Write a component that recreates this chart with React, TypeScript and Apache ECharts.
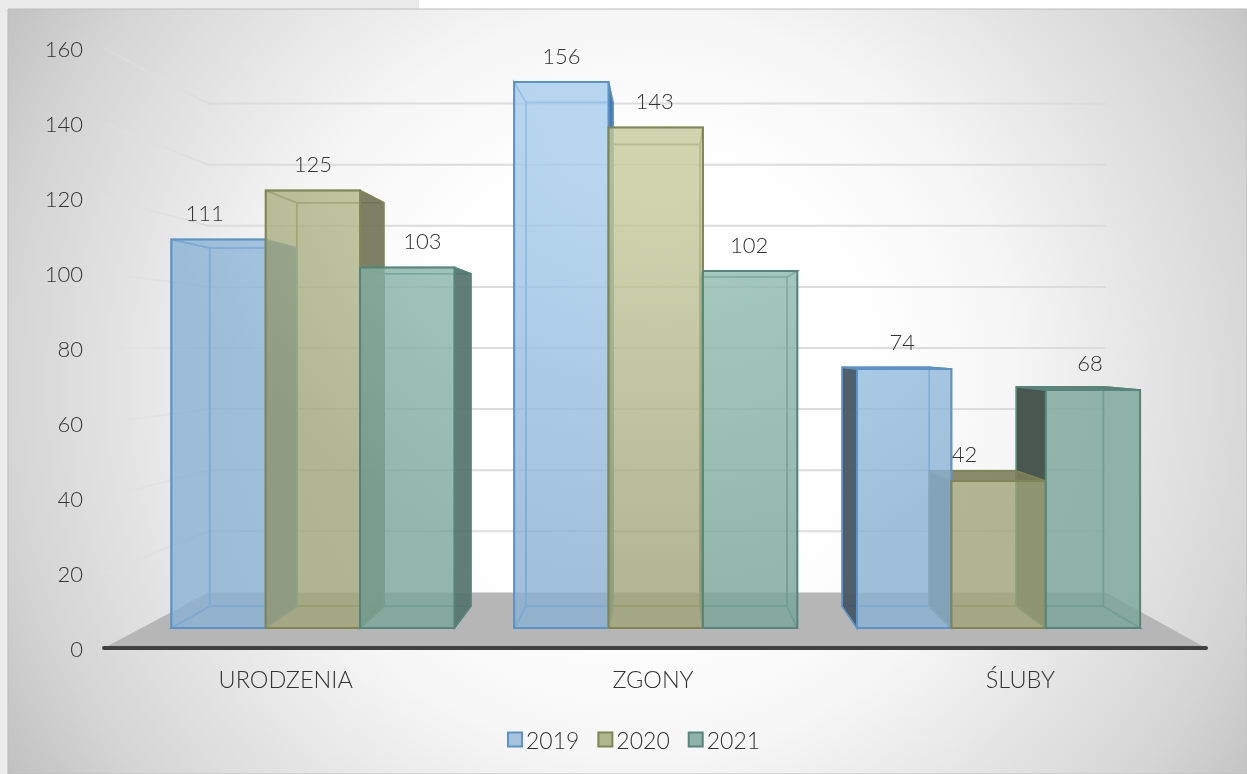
import React, { useEffect, useRef } from "react";
import * as echarts from "echarts";

const categories = ["URODZENIA", "ZGONY", "ŚLUBY"];
const years = ["2019", "2020", "2021"];
const values2019 = [111, 156, 74];
const values2020 = [125, 143, 42];
const values2021 = [103, 102, 68];
const yTicks = [0, 20, 40, 60, 80, 100, 120, 140, 160];

const FONT = "Lato, 'Open Sans', sans-serif";
const WEIGHT = 300;
const TEXT = "#333333";
const VX = 666, VY = 348;
const S_FRONT = 0.9333, S_BACK = 0.861, S_WALL = 0.8147;
const SLOT = 0.2753;

const palette = [
  { bright: "rgba(166,204,236,0.8)", dark: "rgba(136,176,211,0.8)", line: "#5b93c7", sideL: "rgba(72,88,102,0.96)", sideR: "rgba(70,115,165,0.95)", top: "rgba(80,130,180,0.95)", swatch: "#a6c3df" },
  { bright: "rgba(196,202,156,0.8)", dark: "rgba(159,164,119,0.8)", line: "#7f8653", sideL: "rgba(100,100,70,0.95)", sideR: "rgba(112,114,84,0.9)", top: "rgba(125,126,92,0.9)", swatch: "#b0b78f" },
  { bright: "rgba(149,192,180,0.8)", dark: "rgba(120,165,152,0.8)", line: "#56857a", sideL: "rgba(70,84,78,0.98)", sideR: "rgba(84,116,108,0.93)", top: "rgba(90,125,112,0.95)", swatch: "#8fb3a9" },
];

const labelNudge: Record<string, number> = {
  "0-0": -14, "0-1": 0, "0-2": 15,
  "1-0": 0, "1-1": -1, "1-2": -1,
  "2-0": -2, "2-1": -34, "2-2": -3,
};

const project = (p: number[], s: number) => [VX + s * (p[0] - VX), VY + s * (p[1] - VY)];

function barGeometry(api: any, seriesIdx: number) {
  const cat = api.value(0), val = api.value(1);
  const band = api.size([1, 0])[0];
  const c0 = api.coord([cat, 0]);
  const cv = api.coord([cat, val]);
  const w = band * SLOT;
  const xL = c0[0] + (seriesIdx - 1.5) * w;
  const xR = xL + w;
  const fBL = project([xL, c0[1]], S_FRONT), fBR = project([xR, c0[1]], S_FRONT);
  const fTL = project([xL, cv[1]], S_FRONT), fTR = project([xR, cv[1]], S_FRONT);
  const bBL = project([xL, c0[1]], S_BACK), bBR = project([xR, c0[1]], S_BACK);
  const bTL = project([xL, cv[1]], S_BACK), bTR = project([xR, cv[1]], S_BACK);
  return { cat, val, fBL, fBR, fTL, fTR, bBL, bBR, bTL, bTR };
}

const poly = (points: number[][], fill: any, stroke: string, lw: number, z2: number) => ({
  type: "polygon", z2, silent: true,
  shape: { points },
  style: { fill, stroke, lineWidth: lw, lineJoin: "miter" },
});

function bodyRender(seriesIdx: number) {
  return (_p: any, api: any) => {
    const g = barGeometry(api, seriesIdx);
    const c = palette[seriesIdx];
    const soft = "rgba(255,255,255,0)";
    const leftExterior = g.bTL[0] < g.fTL[0];
    const rightExterior = g.bTR[0] > g.fTR[0];
    const topExterior = g.bTL[1] < g.fTL[1];
    const children: any[] = [
      poly([g.bBL, g.bBR, g.bTR, g.bTL], "rgba(255,255,255,0.03)", c.line, 1.5, 0),
      poly([g.fBL, g.fBR, g.bBR, g.bBL], "rgba(255,255,255,0.02)", c.line, 1.5, 0),
      poly([g.fBL, g.bBL, g.bTL, g.fTL], leftExterior ? c.sideL : soft, c.line, 1.5, leftExterior ? 2 : 0),
      poly([g.fBR, g.bBR, g.bTR, g.fTR], rightExterior ? c.sideR : soft, c.line, 1.5, rightExterior ? 2 : 0),
      poly([g.fTL, g.fTR, g.bTR, g.bTL], topExterior ? c.top : soft, c.line, 1.5, topExterior ? 3 : 0),
    ];
    return { type: "group", children };
  };
}

function frontRender(seriesIdx: number) {
  return (_p: any, api: any) => {
    const g = barGeometry(api, seriesIdx);
    const c = palette[seriesIdx];
    const nudge = labelNudge[`${g.cat}-${seriesIdx}`] || 0;
    const mid = (g.fTL[0] + g.fTR[0]) / 2 + nudge;
    const fill = new (echarts.graphic as any).RadialGradient(660, 60, 520, [
      { offset: 0, color: c.bright },
      { offset: 0.25, color: c.bright },
      { offset: 1, color: c.dark },
    ], true);
    return {
      type: "group",
      children: [
        poly([g.fBL, g.fBR, g.fTR, g.fTL], fill, c.line, 2, 1),
        {
          type: "text", z2: 5, silent: true,
          x: mid, y: g.fTL[1] - 27,
          style: { text: String(g.val), fill: TEXT, font: `${WEIGHT} 22px ${FONT}`, align: "center", verticalAlign: "middle" },
        },
      ],
    };
  };
}

function wallRender(params: any, api: any) {
  const v = api.value(1);
  const cs = params.coordSys;
  const y = api.coord([0, v])[1];
  const xA = cs.x, xB = cs.x + cs.width;
  const a = [xA, y], b = [xB, y];
  const wa = project(a, S_WALL), wb = project(b, S_WALL);
  if (v === 0) {
    return {
      type: "polygon", silent: true, z2: 0,
      shape: { points: [a, wa, wb, b] },
      style: { fill: "#b6b6b6" },
    };
  }
  const stroke = new (echarts.graphic as any).LinearGradient(xA, 0, wa[0], 0, [
    { offset: 0, color: "rgba(226,226,226,0.25)" },
    { offset: 1, color: "rgba(220,220,220,1)" },
  ], true);
  return {
    type: "polyline", silent: true, z2: 1,
    shape: { points: [a, wa, wb] },
    style: { fill: "none", stroke, lineWidth: 2 },
  };
}

export default function App() {
  const ref = useRef<HTMLDivElement>(null);
  useEffect(() => {
    if (!ref.current) return;
    const chart = echarts.init(ref.current, undefined, { renderer: "svg" });
    const seriesValues = [values2019, values2020, values2021];
    const toData = (vals: number[]) => vals.map((v, i) => [i, v]);
    const series: any[] = [
      {
        type: "custom", name: "walls", coordinateSystem: "cartesian2d", z: 1, clip: false, silent: true,
        encode: { x: 0, y: 1 },
        data: yTicks.map((t) => [0, t]),
        renderItem: wallRender,
      },
    ];
    seriesValues.forEach((vals, i) => {
      series.push({
        type: "custom", name: years[i], coordinateSystem: "cartesian2d", z: 3, clip: false, silent: true,
        encode: { x: 0, y: 1 },
        itemStyle: { color: palette[i].swatch },
        data: toData(vals),
        renderItem: bodyRender(i),
      });
    });
    seriesValues.forEach((vals, i) => {
      series.push({
        type: "custom", name: years[i], coordinateSystem: "cartesian2d", z: 4, clip: false, silent: true,
        encode: { x: 0, y: 1 },
        itemStyle: { color: palette[i].swatch },
        data: toData(vals),
        renderItem: frontRender(i),
      });
    });
    chart.setOption({
      animation: false,
      backgroundColor: "transparent",
      graphic: [
        { type: "rect", z: -10, silent: true, shape: { x: 0, y: 0, width: 1247, height: 774 }, style: { fill: "#ffffff" } },
        { type: "rect", z: -10, silent: true, shape: { x: 0, y: 0, width: 419, height: 774 }, style: { fill: "#ecebeb" } },
        {
          type: "rect", z: -9, silent: true,
          shape: { x: 8, y: 9, width: 1239, height: 765 },
          style: {
            stroke: "#bdbdbd", lineWidth: 1,
            fill: new (echarts.graphic as any).RadialGradient(640, 385, 745, [
              { offset: 0, color: "#ffffff" },
              { offset: 0.3, color: "#ffffff" },
              { offset: 0.5, color: "#f6f6f6" },
              { offset: 0.7, color: "#e3e3e3" },
              { offset: 0.85, color: "#d5d5d5" },
              { offset: 1, color: "#c0c0c0" },
            ], true),
          },
        },
      ],
      grid: { left: 104, right: 41, top: 48, bottom: 126, containLabel: false },
      xAxis: {
        type: "category",
        data: categories,
        z: 10,
        axisTick: { show: false },
        axisLine: { show: true, lineStyle: { color: "#404040", width: 4, cap: "round" } },
        axisLabel: { color: TEXT, fontFamily: FONT, fontWeight: WEIGHT, fontSize: 23.5, margin: 19, padding: [0, 4, 0, 0] },
      },
      yAxis: {
        type: "value",
        min: 0,
        max: 160,
        interval: 20,
        axisLine: { show: false },
        axisTick: { show: false },
        splitLine: { show: false },
        axisLabel: { color: TEXT, fontFamily: FONT, fontWeight: WEIGHT, fontSize: 22, margin: 21 },
      },
      legend: {
        left: 502, top: 723, itemWidth: 14, itemHeight: 14, itemGap: 18,
        icon: "rect",
        textStyle: { color: TEXT, fontFamily: FONT, fontWeight: WEIGHT, fontSize: 23, padding: [0, 0, 0, -1] },
        data: years.map((y, i) => ({ name: y, icon: "rect", itemStyle: { color: palette[i].swatch, borderColor: palette[i].line, borderWidth: 2 } })),
      },
      series,
    });
    return () => chart.dispose();
  }, []);
  return <div ref={ref} style={{ position: "fixed", left: 0, top: 0, width: 1247, height: 774 }} />;
}
